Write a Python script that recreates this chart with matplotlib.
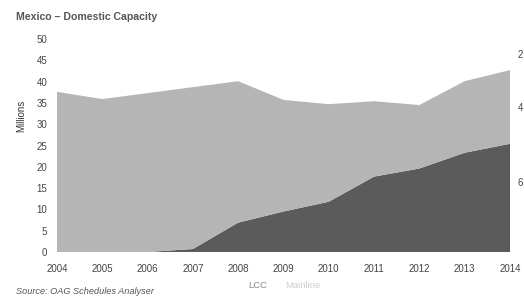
import numpy as np
import matplotlib
matplotlib.use("Agg")
import matplotlib.pyplot as plt

plt.rcParams['font.family'] = ['Liberation Sans', 'DejaVu Sans']

years = [2004, 2005, 2006, 2007, 2008, 2009, 2010, 2011, 2012, 2013, 2014]
lcc = [0.0, 0.0, 0.0, 0.7, 6.9, 9.5, 11.8, 17.7, 19.6, 23.3, 25.4]
total = [37.6, 35.9, 37.3, 38.7, 40.1, 35.7, 34.7, 35.4, 34.5, 40.1, 42.7]
mainline = [t - l for t, l in zip(total, lcc)]
y_ticks = [0, 5, 10, 15, 20, 25, 30, 35, 40, 45, 50]

dark = '#5b5b5b'
light = '#b5b5b5'

fig = plt.figure(figsize=(5.24, 2.96), dpi=100)
ax = fig.add_axes([57 / 524, 1 - 252 / 296, (510 - 57) / 524, (252 - 39) / 296])

ax.stackplot(years, lcc, mainline, colors=[dark, light], linewidth=0)

ax.set_xlim(2004, 2014)
ax.set_ylim(0, 50)
ax.set_xticks(years)
ax.set_yticks(y_ticks)
ax.tick_params(length=0, labelsize=7, colors='#444444')
ax.tick_params(axis='y', pad=7)
ax.tick_params(axis='x', pad=9)
for s in ax.spines.values():
    s.set_visible(False)

ax.set_ylabel('Millions', fontsize=7, color='#333333')
ax.yaxis.set_label_coords(-0.068, 0.64)

fig.text(16 / 524, 1 - 17 / 296, 'Mexico \u2013 Domestic Capacity', fontsize=7.6,
         color='#555555', fontweight='bold', va='center')

# legend (text only)
fig.text(248 / 524, 1 - 285 / 296, 'LCC', fontsize=6.8, color='#888888', va='center')
fig.text(285 / 524, 1 - 285 / 296, 'Mainline', fontsize=6.8, color='#cccccc', va='center')

fig.text(16 / 524, 1 - 291 / 296, 'Source: OAG Schedules Analyser', fontsize=6.6,
         color='#555555', style='italic', va='center')

# cut-off labels of neighbouring chart
for yy, t in [(55, '2'), (108, '4'), (183, '6')]:
    fig.text(518 / 524, 1 - yy / 296, t, fontsize=7, color='#444444', va='center')

fig.savefig('out.png', dpi=100)
